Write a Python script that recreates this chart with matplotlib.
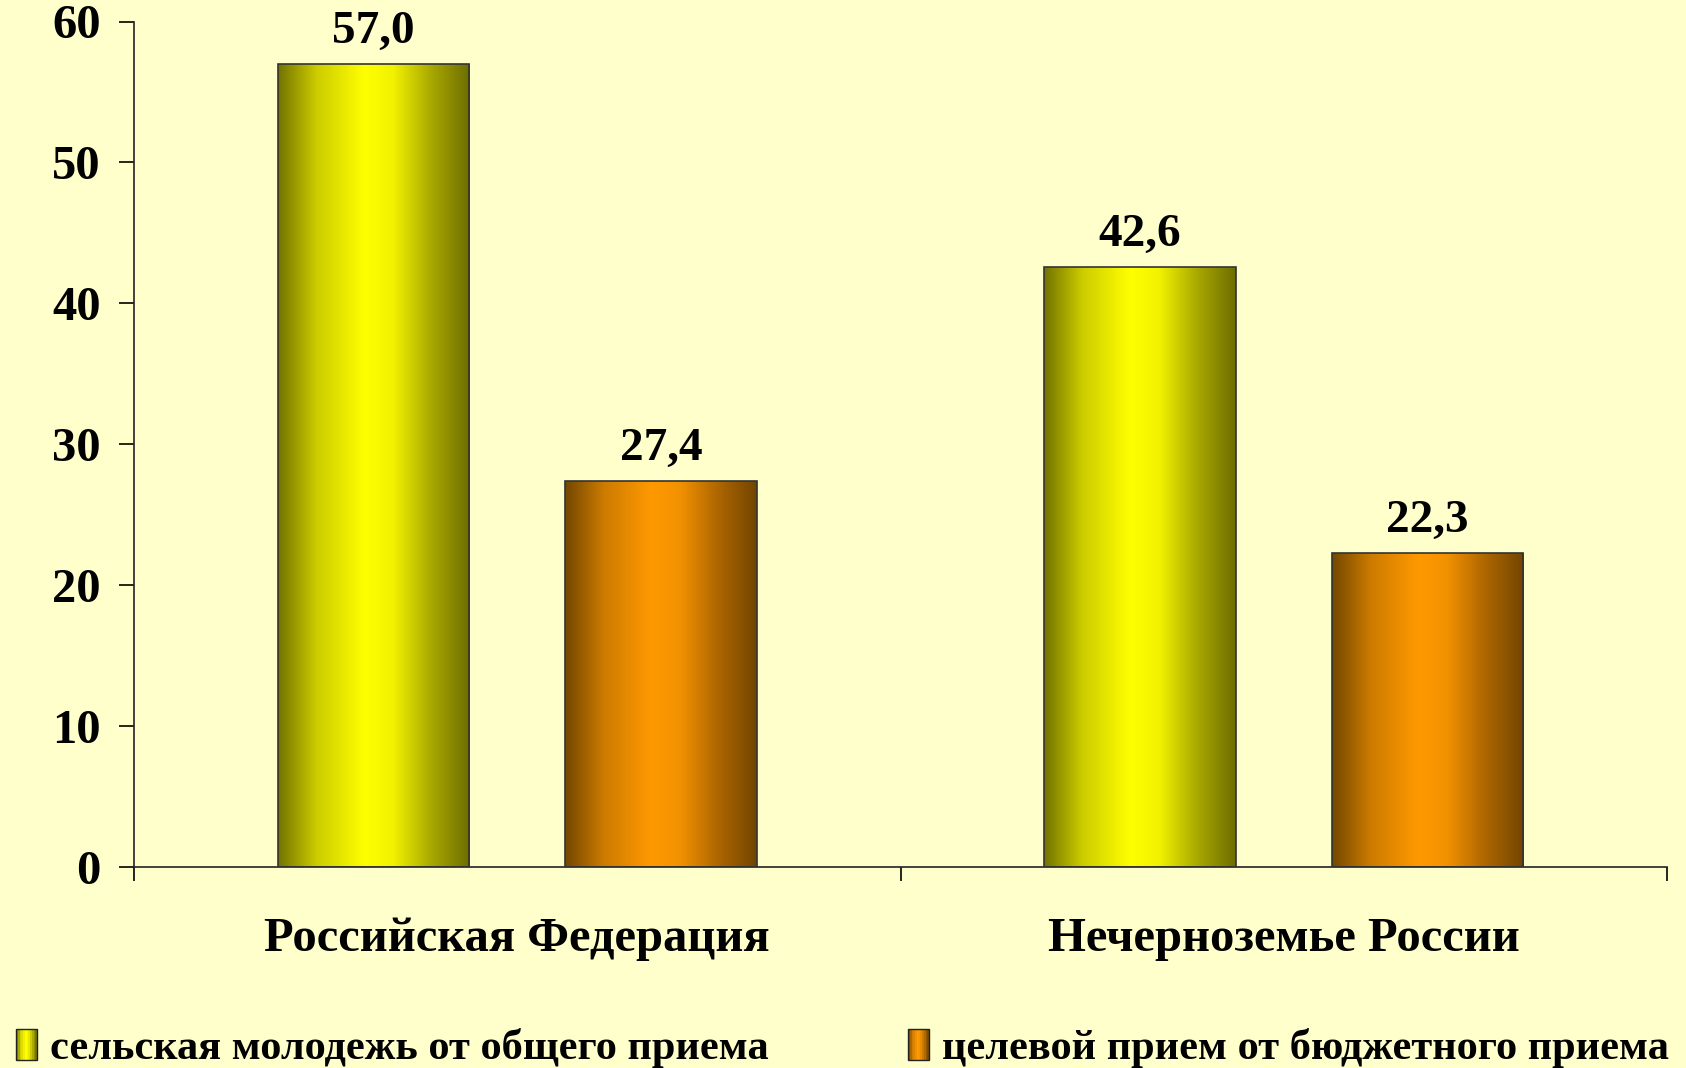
import matplotlib
matplotlib.use("Agg")
import matplotlib.pyplot as plt
import numpy as np
from matplotlib.colors import LinearSegmentedColormap
from matplotlib.patches import Rectangle
from matplotlib.legend_handler import HandlerBase

categories = ["Российская Федерация", "Нечерноземье России"]
series_names = ["сельская молодежь от общего приема", "целевой прием от бюджетного приема"]
rural_youth = [57.0, 42.6]
target_admission = [27.4, 22.3]
y_ticks = [0, 10, 20, 30, 40, 50, 60]

BG = "#FFFFCC"
FONT = ["Liberation Serif", "DejaVu Serif"]

yellow_profile = [(0.0, (0.45, 0.45, 0.0)), (0.2, (0.80, 0.80, 0.0)), (0.45, (1.0, 1.0, 0.0)),
                  (0.6, (0.95, 0.95, 0.0)), (0.8, (0.66, 0.66, 0.0)), (1.0, (0.43, 0.43, 0.0))]
orange_profile = [(0.0, (0.45, 0.28, 0.0)), (0.2, (0.80, 0.48, 0.0)), (0.45, (1.0, 0.60, 0.0)),
                  (0.6, (0.95, 0.57, 0.0)), (0.8, (0.68, 0.40, 0.0)), (1.0, (0.45, 0.27, 0.0))]
cmaps = [LinearSegmentedColormap.from_list("yel", yellow_profile),
         LinearSegmentedColormap.from_list("org", orange_profile)]

plt.rcParams['font.family'] = FONT
plt.rcParams['font.weight'] = 'bold'

W, H, DPI = 1686, 1068, 100
fig = plt.figure(figsize=(W / DPI, H / DPI), dpi=DPI, facecolor=BG)
ax = fig.add_axes([134 / W, 1 - 866.7 / H, (1667 - 134) / W, (866.7 - 21.5) / H], facecolor=BG)

x = np.arange(len(categories)) + 0.5
width = 0.25
offset = 0.1875
grad = np.linspace(0, 1, 256).reshape(1, -1)

for i, (vals, cm) in enumerate(zip([rural_youth, target_admission], cmaps)):
    pos = x + (-offset if i == 0 else offset)
    bars = ax.bar(pos, vals, width=width, facecolor="none", edgecolor="#333333",
                  linewidth=1.2, zorder=3)
    for b, v in zip(bars, vals):
        x0, y0 = b.get_x(), b.get_y()
        im = ax.imshow(grad, cmap=cm, aspect="auto", interpolation="bicubic",
                       extent=(x0, x0 + b.get_width(), y0, y0 + b.get_height()), zorder=2)
        im.set_clip_path(b)
        ax.annotate(f"{v:.1f}".replace(".", ","), (x0 + b.get_width() / 2, v),
                    xytext=(0, 15), textcoords="offset points", ha="center", va="baseline",
                    fontsize=34, fontweight="bold")

ax.set_xlim(0, len(categories))
ax.set_ylim(0, 60)
ax.set_yticks(y_ticks)
ax.set_yticklabels([str(t) for t in y_ticks], fontsize=35, fontweight="bold")
ax.set_xticks(np.arange(len(categories) + 1))
ax.set_xticklabels([])
ax.set_xticks(x, minor=True)
ax.set_xticklabels(categories, minor=True, fontsize=35, fontweight="bold")
ax.tick_params(axis="y", direction="out", length=11, width=1.2, pad=13)
ax.tick_params(axis="x", which="major", direction="out", length=10, width=1.2)
ax.tick_params(axis="x", which="minor", length=0, pad=36)
for s in ["top", "right"]:
    ax.spines[s].set_visible(False)
for s in ["left", "bottom"]:
    ax.spines[s].set_linewidth(1.2)
    ax.spines[s].set_color("#222222")


class GradHandler(HandlerBase):
    def __init__(self, cmap):
        super().__init__()
        self.cmap = cmap

    def create_artists(self, legend, orig_handle, xdescent, ydescent, width, height, fontsize, trans):
        n = 12
        arts = []
        for k in range(n):
            r = Rectangle((-xdescent + width * k / n, -ydescent), width / n + 0.3, height,
                          facecolor=self.cmap((k + 0.5) / n), edgecolor="none", transform=trans)
            arts.append(r)
        arts.append(Rectangle((-xdescent, -ydescent), width, height, facecolor="none",
                              edgecolor="#222222", linewidth=1.0, transform=trans))
        return arts


for j, (name, cm) in enumerate(zip(series_names, cmaps)):
    h = Rectangle((0, 0), 1, 1)
    anchor = (16 / W, 1 - 1048 / H) if j == 0 else (908 / W, 1 - 1048 / H)
    leg = fig.legend([h], [name], loc="center left", bbox_to_anchor=anchor,
                     frameon=False, borderpad=0, borderaxespad=0,
                     handlelength=0.5, handleheight=0.75, handletextpad=0.3,
                     prop={"family": FONT, "weight": "bold", "size": 30.5},
                     handler_map={Rectangle: GradHandler(cm)})

fig.savefig("out.png", dpi=DPI, facecolor=BG)
